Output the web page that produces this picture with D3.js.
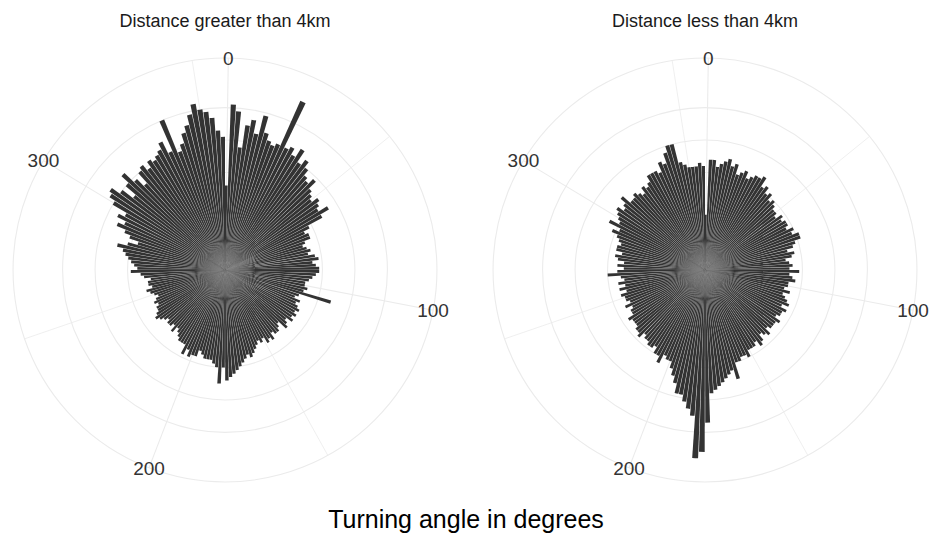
<!DOCTYPE html>
<html>
<head>
<meta charset="utf-8">
<script src="https://cdn.jsdelivr.net/npm/d3@7"></script>
<style>
  body { margin: 0; background: #ffffff; }
  text { font-family: "Liberation Sans", Arial, sans-serif; }
</style>
</head>
<body>
<svg id="chart" width="932" height="543"></svg>
<script>
// turning angle ticks (degrees)
var angleTicks = [0, 100, 200, 300];
var angleMinor = [50, 150, 250, 350];
var ringBreaks = [10, 20, 30, 40, 50];
var panelTitles = ["Distance greater than 4km", "Distance less than 4km"];
var binWidth = 2;

// counts per 2 degree bin, bins centred on 0, 2, ... 358
var farCounts = [
  26, 51, 49, 38, 45, 47, 43, 49, 44, 42,
  41, 42, 57, 42, 43, 41, 44, 40, 42, 40,
  38, 37, 39, 36, 35, 34, 36, 35, 34, 37,
  34, 29, 27, 28, 28, 26, 25, 26, 27, 26,
  28, 29, 27, 28, 29, 29, 28, 27, 26, 25,
  25, 26, 25, 34, 24, 23, 25, 24, 25, 26,
  25, 26, 25, 26, 24, 25, 26, 23, 24, 25,
  25, 24, 26, 25, 26, 24, 25, 24, 25, 26,
  27, 28, 27, 28, 29, 30, 31, 32, 33, 34,
  30, 35, 30, 29, 28, 28, 28, 27, 26, 28,
  28, 29, 27, 29, 26, 26, 26, 25, 24, 23,
  25, 23, 24, 24, 23, 24, 25, 26, 25, 24,
  24, 23, 24, 23, 22, 23, 24, 25, 23, 24,
  24, 23, 25, 26, 29, 27, 28, 29, 30, 31,
  32, 34, 31, 28, 31, 33, 36, 34, 37, 35,
  40, 42, 43, 40, 36, 40, 43, 39, 36, 40,
  41, 39, 41, 40, 41, 42, 44, 40, 50, 39,
  41, 44, 46, 49, 52, 50, 49, 47, 43, 41
];

var nearCounts = [
  17, 34, 34, 32, 33, 34, 35, 33, 34, 31,
  32, 33, 31, 32, 33, 33, 34, 31, 32, 30,
  31, 29, 30, 29, 28, 28, 27, 29, 28, 29,
  29, 28, 30, 29, 31, 31, 29, 28, 26, 28,
  27, 25, 26, 27, 26, 29, 26, 27, 28, 26,
  26, 25, 27, 25, 26, 27, 28, 26, 28, 27,
  27, 26, 28, 27, 27, 27, 26, 28, 27, 26,
  28, 29, 27, 28, 28, 28, 30, 29, 29, 30,
  30, 35, 32, 33, 34, 35, 36, 37, 38, 47,
  56, 58, 45, 43, 41, 39, 39, 36, 34, 32,
  30, 30, 29, 32, 30, 30, 28, 29, 29, 28,
  28, 27, 29, 28, 28, 27, 27, 27, 28, 26,
  26, 25, 27, 25, 26, 26, 27, 25, 27, 25,
  27, 25, 26, 30, 27, 25, 27, 25, 27, 28,
  26, 28, 28, 27, 28, 29, 31, 29, 33, 30,
  31, 32, 33, 31, 32, 34, 31, 31, 32, 31,
  30, 32, 31, 32, 34, 34, 34, 33, 36, 35,
  38, 40, 40, 34, 33, 32, 32, 32, 33, 32
];

var panels = [
  { title: panelTitles[0], counts: farCounts, cx: 225 },
  { title: panelTitles[1], counts: nearCounts, cx: 705 }
];

var cy = 270;
var barMax = 188.4;               // radius of the longest bar (ggplot r = 0.4)
var outerR = barMax * 0.45 / 0.4; // theta axis circle (ggplot r = 0.45)
var half = binWidth * 0.9 / 2;

// shared scales (fixed facets)
var theta = d3.scaleLinear()
    .domain([-half, 360 - binWidth + half])
    .range([0, 2 * Math.PI]);
var r = d3.scaleLinear()
    .domain([0, d3.max(farCounts.concat(nearCounts))])
    .range([0, barMax]);

var arc = d3.arc()
    .innerRadius(0)
    .outerRadius(function(d) { return r(d.n); })
    .startAngle(function(d) { return theta(d.a - half); })
    .endAngle(function(d) { return theta(d.a + half); });

var svg = d3.select("#chart");

svg.append("rect")
    .attr("width", 932).attr("height", 543)
    .attr("fill", "#ffffff");

panels.forEach(function(p) {
    var g = svg.append("g")
	.attr("transform", "translate(" + p.cx + "," + cy + ")");

    // rings
    g.selectAll("circle.ring")
	.data(ringBreaks.concat([null]))
	.enter()
	.append("circle")
	.attr("class", "ring")
	.attr("r", function(d) { return d === null ? outerR : r(d); })
	.attr("fill", "none")
	.attr("stroke", "#ebebeb")
	.attr("stroke-width", 1.1);

    // spokes
    g.selectAll("line.spoke")
	.data(angleTicks.concat(angleMinor))
	.enter()
	.append("line")
	.attr("class", "spoke")
	.attr("x1", 0).attr("y1", 0)
	.attr("x2", function(d) { return outerR * Math.sin(theta(d)); })
	.attr("y2", function(d) { return -outerR * Math.cos(theta(d)); })
	.attr("stroke", "#ebebeb")
	.attr("stroke-width", function(d) { return angleTicks.indexOf(d) >= 0 ? 1.1 : 0.8; });

    // bars
    g.append("g")
	.selectAll("path")
	.data(p.counts.map(function(n, i) { return { a: i * binWidth, n: n }; }))
	.enter()
	.append("path")
	.attr("d", arc)
	.attr("fill", "#333333");

    // angle labels
    g.selectAll("text.tick")
	.data(angleTicks)
	.enter()
	.append("text")
	.attr("class", "tick")
	.attr("x", function(d) { return outerR * Math.sin(theta(d)); })
	.attr("y", function(d) { return -outerR * Math.cos(theta(d)); })
	.attr("dy", "0.36em")
	.attr("text-anchor", "middle")
	.attr("font-size", 19)
	.attr("fill", "#333333")
	.text(function(d) { return d; });

    // facet title
    svg.append("text")
	.attr("x", p.cx)
	.attr("y", 27)
	.attr("text-anchor", "middle")
	.attr("font-size", 18)
	.attr("fill", "#1a1a1a")
	.text(p.title);
});

// x axis title
svg.append("text")
    .attr("x", 466)
    .attr("y", 528)
    .attr("text-anchor", "middle")
    .attr("font-size", 25)
    .attr("fill", "#000000")
    .text("Turning angle in degrees");
</script>
</body>
</html>
